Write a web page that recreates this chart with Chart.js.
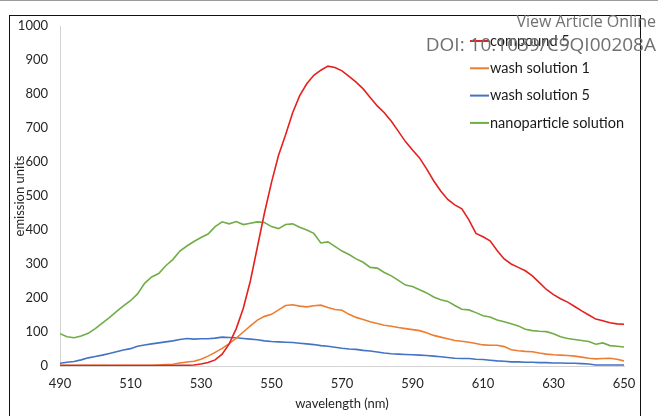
<!DOCTYPE html>
<html>
<head>
<meta charset="utf-8">
<script src="https://cdn.jsdelivr.net/npm/chart.js@4"></script>
<style>
  html, body { margin: 0; padding: 0; background: #fff; }
  #page { position: relative; width: 658px; height: 416px; overflow: hidden; border-top: 1px solid #9a9a9a; box-sizing: border-box; }
  #frame { position: absolute; left: 9px; top: 14px; width: 632px; height: 420px; border: 1px solid #111; box-sizing: border-box; }
  #wrap { position: absolute; left: 0; top: 0; width: 658px; height: 416px; }
  .wm { position: absolute; right: 2px; color: #707070; font-family: "Open Sans", sans-serif; white-space: nowrap; }
</style>
</head>
<body>
<div id="page">
  <div id="frame"></div>
  <div id="wrap"><canvas id="spectraChart"></canvas></div>
  <div class="wm" style="top:9px;font-size:16px;">View Article Online</div>
  <div class="wm" style="top:30px;font-size:19px;">DOI: 10.1039/C9QI00208A</div>
</div>
<script>
const wavelengths = [
  490, 492, 494, 496, 498, 500, 502, 504, 506, 508, 510, 512, 514, 516, 518, 520,
  522, 524, 526, 528, 530, 532, 534, 536, 538, 540, 542, 544, 546, 548, 550, 552,
  554, 556, 558, 560, 562, 564, 566, 568, 570, 572, 574, 576, 578, 580, 582, 584,
  586, 588, 590, 592, 594, 596, 598, 600, 602, 604, 606, 608, 610, 612, 614, 616,
  618, 620, 622, 624, 626, 628, 630, 632, 634, 636, 638, 640, 642, 644, 646, 648, 650,
];

const compound5 = [
  1, 1, 1, 1, 1, 1, 1, 1, 1, 1, 1, 1, 1, 1, 1, 1,
  1, 2, 2, 3, 6, 10, 18, 35, 65, 110, 170, 250, 350, 450, 540, 620,
  680, 745, 795, 830, 855, 870, 882, 878, 868, 852, 835, 815, 790, 765, 745, 720,
  690, 660, 635, 612, 580, 545, 515, 490, 474, 462, 430, 390, 380, 368, 340, 315,
  300, 290, 280, 265, 245, 225, 210, 198, 188, 175, 162, 150, 138, 133, 127, 124, 123,
];

const washSolution1 = [
  2, 2, 2, 2, 2, 2, 2, 2, 2, 2, 2, 2, 2, 2, 3, 4,
  5, 9, 12, 14, 20, 29, 40, 52, 66, 82, 100, 118, 135, 146, 152, 165,
  178, 180, 176, 174, 177, 179, 172, 166, 164, 152, 143, 137, 130, 125, 120, 117,
  113, 110, 107, 104, 98, 90, 85, 80, 75, 73, 70, 66, 62, 61, 61, 57,
  48, 45, 43, 42, 38, 35, 33, 32, 31, 29, 26, 23, 21, 22, 23, 20, 15,
];

const washSolution5 = [
  8, 11, 13, 18, 24, 28, 32, 37, 42, 47, 51, 58, 62, 65, 68, 71,
  74, 78, 81, 79, 80, 80, 82, 85, 84, 83, 81, 79, 77, 74, 72, 71,
  70, 69, 67, 65, 63, 60, 58, 55, 52, 50, 49, 46, 44, 41, 38, 36,
  35, 34, 33, 32, 31, 29, 27, 25, 23, 22, 22, 20, 19, 17, 15, 14,
  12, 12, 11, 11, 10, 10, 9, 9, 8, 8, 7, 6, 3, 3, 3, 3, 3,
];

const nanoparticleSolution = [
  95, 86, 83, 88, 96, 110, 126, 142, 160, 177, 192, 212, 243, 262, 272, 295,
  313, 338, 353, 366, 378, 388, 410, 424, 418, 425, 416, 420, 424, 422, 410, 404,
  416, 418, 408, 400, 390, 362, 365, 352, 338, 328, 315, 305, 290, 288, 275, 265,
  252, 238, 234, 224, 215, 203, 195, 190, 178, 167, 165, 157, 148, 144, 135, 130,
  124, 118, 108, 104, 102, 101, 95, 86, 81, 78, 75, 72, 64, 68, 60, 58, 56,
];

const seriesNames = ["compound 5", "wash solution 1", "wash solution 5", "nanoparticle solution"];
const seriesColors = ["#e3211e", "#ed7d31", "#4472c4", "#70ad47"];
const seriesValues = [compound5, washSolution1, washSolution5, nanoparticleSolution];

const xTicks = [490, 510, 530, 550, 570, 590, 610, 630, 650];
const yTicks = [0, 100, 200, 300, 400, 500, 600, 700, 800, 900, 1000];

const textFont = "Lato, 'Open Sans', sans-serif";

// legend drawn inside the plot, top right, like the Excel original
const insideLegend = {
  id: "insideLegend",
  afterDraw(chart) {
    const ctx = chart.ctx;
    const x0 = 470;
    let y = 40;
    ctx.save();
    ctx.font = `14.5px ${textFont}`;
    ctx.textBaseline = "middle";
    chart.data.datasets.forEach((ds) => {
      ctx.strokeStyle = ds.borderColor;
      ctx.lineWidth = 2;
      ctx.beginPath();
      ctx.moveTo(x0, y);
      ctx.lineTo(x0 + 19, y);
      ctx.stroke();
      ctx.fillStyle = "#1a1a1a";
      ctx.fillText(ds.label, x0 + 20, y);
      y += 27.3;
    });
    ctx.restore();
  },
};

new Chart(document.getElementById("spectraChart"), {
  type: "line",
  data: {
    datasets: seriesNames.map((name, i) => ({
      label: name,
      data: wavelengths.map((w, j) => ({ x: w, y: seriesValues[i][j] })),
      borderColor: seriesColors[i],
      borderWidth: 1.6,
      pointRadius: 0,
      tension: 0,
      fill: false,
    })),
  },
  options: {
    responsive: true,
    maintainAspectRatio: false,
    animation: false,
    layout: { padding: { left: 10, top: 25, right: 34, bottom: 0 } },
    plugins: {
      legend: { display: false },
      tooltip: { enabled: false },
    },
    scales: {
      x: {
        type: "linear",
        min: 490,
        max: 650,
        afterBuildTicks: (scale) => {
          scale.ticks = xTicks.map((v) => ({ value: v }));
        },
        afterFit: (scale) => {
          scale.height = 51;
        },
        grid: { display: false, drawTicks: false },
        border: { display: true, color: "#d4d4d4", width: 1 },
        ticks: {
          color: "#262626",
          font: { family: textFont, size: 13 },
          padding: 10,
          maxRotation: 0,
          callback: (v) => String(v),
        },
        title: {
          display: true,
          text: "wavelength (nm)",
          color: "#262626",
          font: { family: textFont, size: 13 },
          padding: { top: 0, bottom: 5 },
        },
      },
      y: {
        min: 0,
        max: 1000,
        afterBuildTicks: (scale) => {
          scale.ticks = yTicks.map((v) => ({ value: v }));
        },
        afterFit: (scale) => {
          scale.width = 50;
        },
        grid: { display: false, drawTicks: false },
        border: { display: true, color: "#d4d4d4", width: 1 },
        ticks: {
          color: "#262626",
          font: { family: textFont, size: 13 },
          padding: 12,
          callback: (v) => String(v),
        },
        title: {
          display: true,
          text: "emission units",
          color: "#262626",
          font: { family: textFont, size: 13 },
          padding: { top: 2, bottom: 0 },
        },
      },
    },
  },
  plugins: [insideLegend],
});
</script>
</body>
</html>
